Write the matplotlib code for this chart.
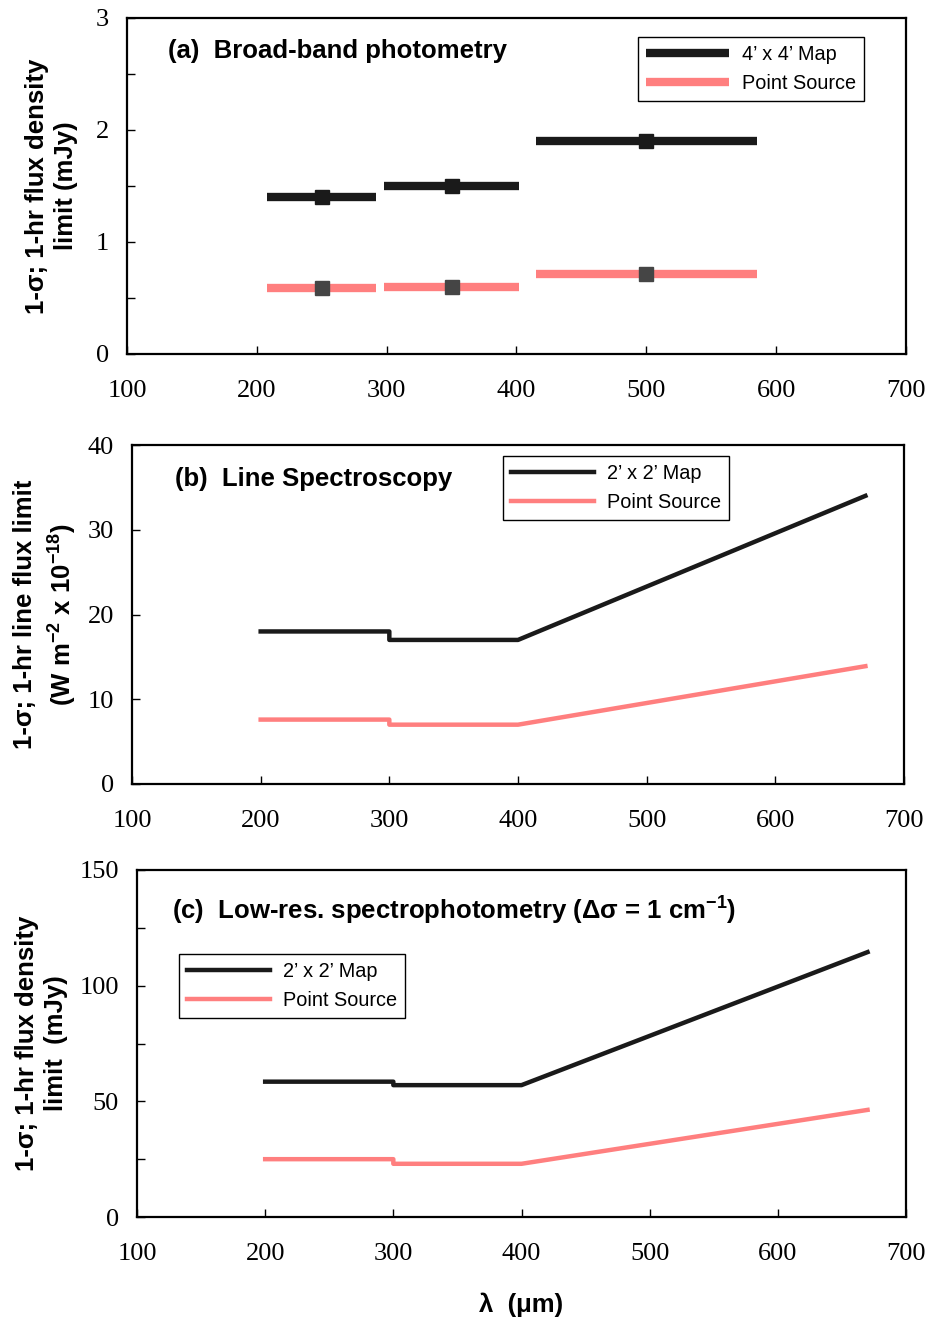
import numpy as np
import matplotlib
matplotlib.use('Agg')
import matplotlib.pyplot as plt
from matplotlib.ticker import MultipleLocator

# (a) broad-band photometry: three bands
band_centre = [250, 350, 500]
band_lo = [208, 298, 415]
band_hi = [292, 402, 585]
map_a = [1.40, 1.50, 1.90]
point_a = [0.59, 0.60, 0.71]

# (b) line spectroscopy
wl_b = [200, 300, 300, 400, 670]
map_b = [18.0, 18.0, 17.0, 17.0, 34.0]
point_b = [7.6, 7.6, 7.0, 7.0, 13.9]

# (c) low-res spectrophotometry
wl_c = [200, 300, 300, 400, 670]
map_c = [58.5, 58.5, 57.0, 57.0, 114.5]
point_c = [25.0, 25.0, 23.0, 23.0, 46.3]

BLACK = '#1a1a1a'
PINK = '#ff7f7f'
SANS = 'Liberation Sans'
SERIF = 'Liberation Serif'

plt.rcParams['mathtext.fontset'] = 'custom'
plt.rcParams['mathtext.rm'] = 'Liberation Sans'
plt.rcParams['mathtext.bf'] = 'Liberation Sans:bold'

fig = plt.figure(figsize=(9.28, 13.22), dpi=100)
W, H = 928.0, 1322.0


def make_axes(l, r, t, b):
    return fig.add_axes([l / W, 1 - b / H, (r - l) / W, (b - t) / H])


def style(ax, ymax, ymajor, yminor=None):
    ax.set_xlim(100, 700)
    ax.set_ylim(0, ymax)
    ax.xaxis.set_major_locator(MultipleLocator(100))
    ax.yaxis.set_major_locator(MultipleLocator(ymajor))
    if yminor:
        ax.yaxis.set_minor_locator(MultipleLocator(yminor))
    for s in ax.spines.values():
        s.set_linewidth(1.6)
    ax.tick_params(axis='x', direction='in', length=6, width=1, pad=19,
                   top=False, labelsize=19)
    ax.tick_params(axis='y', which='both', direction='in', length=6, width=1,
                   pad=13, right=False, labelsize=19)
    for lab in ax.get_xticklabels() + ax.get_yticklabels():
        lab.set_fontfamily(SERIF)


def add_legend(ax, x, y):
    h, l = ax.get_legend_handles_labels()
    leg = ax.legend(h, l, loc='upper left', bbox_to_anchor=(x, y),
                    borderaxespad=0, fancybox=False, edgecolor='black',
                    framealpha=1, prop={'family': SANS, 'size': 14.3},
                    handlelength=4.2, handletextpad=0.65, labelspacing=0.5,
                    borderpad=0.4)
    leg.get_frame().set_linewidth(1.0)


def ylabel(ax, x, txt):
    ax.text(x, 0.5, txt, transform=ax.transAxes, rotation=90, ha='center',
            va='center', family=SANS, weight='bold', fontsize=18.5,
            multialignment='center', linespacing=1.3)


def panel_title(ax, x, y, txt):
    ax.text(x, y, txt, transform=ax.transAxes, family=SANS, weight='bold',
            fontsize=18.5, va='center')


# ---- panel (a)
ax1 = make_axes(127, 906, 18, 354)
for i in range(3):
    ax1.plot([band_lo[i], band_hi[i]], [map_a[i], map_a[i]], color=BLACK,
             lw=6, solid_capstyle='butt',
             label='4\u2019 x 4\u2019 Map' if i == 0 else None)
    ax1.plot([band_lo[i], band_hi[i]], [point_a[i], point_a[i]], color=PINK,
             lw=6, solid_capstyle='butt',
             label='Point Source' if i == 0 else None)
ax1.plot(band_centre, map_a, 's', color=BLACK, ms=10, ls='none')
ax1.plot(band_centre, point_a, 's', color='#454545', ms=10, ls='none')
style(ax1, 3, 1, 0.5)
add_legend(ax1, 0.656, 0.943)
panel_title(ax1, 0.053, 0.903, '(a)  Broad-band photometry')
ylabel(ax1, -0.097, '1-\u03c3; 1-hr flux density\nlimit (mJy)')

# ---- panel (b)
ax2 = make_axes(132, 904, 445, 784)
ax2.plot(wl_b, map_b, color=BLACK, lw=3.2, label='2\u2019 x 2\u2019 Map')
ax2.plot(wl_b, point_b, color=PINK, lw=3.2, label='Point Source')
style(ax2, 40, 10)
add_legend(ax2, 0.4806, 0.968)
panel_title(ax2, 0.056, 0.90, '(b)  Line Spectroscopy')
ylabel(ax2, -0.112,
       '1-\u03c3; 1-hr line flux limit\n(W m$^{\\mathbf{-2}}$ x 10$^{\\mathbf{-18}}$)')

# ---- panel (c)
ax3 = make_axes(137, 906, 870, 1217)
ax3.plot(wl_c, map_c, color=BLACK, lw=3.2, label='2\u2019 x 2\u2019 Map')
ax3.plot(wl_c, point_c, color=PINK, lw=3.2, label='Point Source')
style(ax3, 150, 50, 25)
add_legend(ax3, 0.0546, 0.757)
panel_title(ax3, 0.046, 0.885,
            '(c)  Low-res. spectrophotometry (\u0394\u03c3 = 1 cm$^{\\mathbf{-1}}$)')
ylabel(ax3, -0.124, '1-\u03c3; 1-hr flux density\nlimit  (mJy)')
ax3.text(0.5, -0.254, '\u03bb  (\u03bcm)', transform=ax3.transAxes, ha='center',
         va='center', family=SANS, weight='bold', fontsize=18.5)

fig.savefig('out.png', dpi=100)
